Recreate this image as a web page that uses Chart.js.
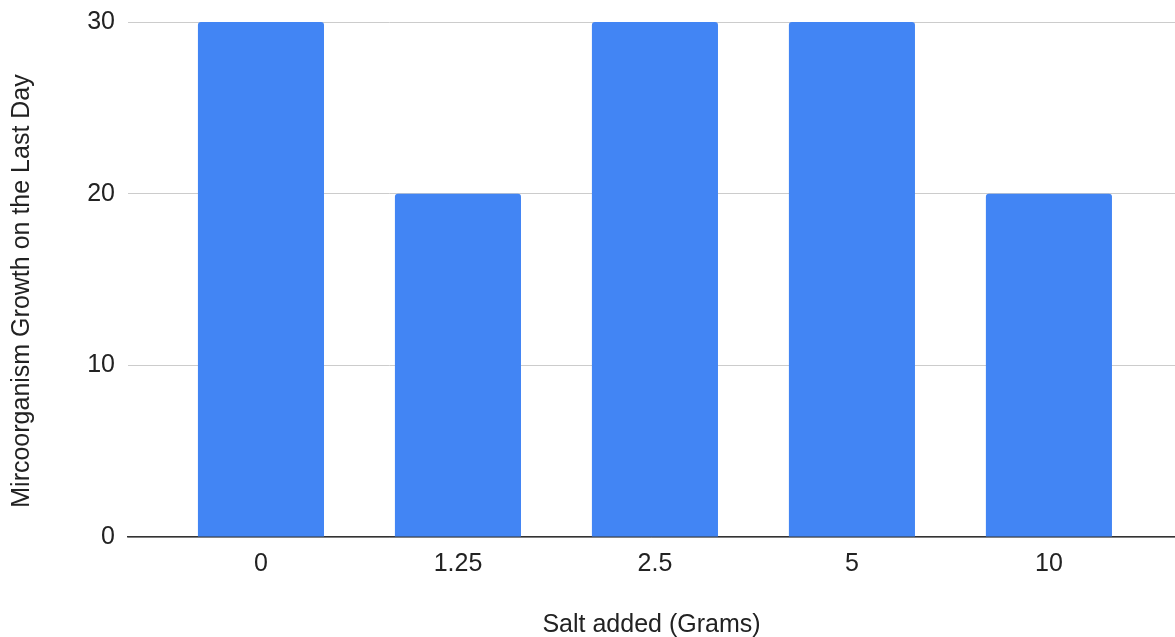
<!DOCTYPE html>
<html><head><meta charset="utf-8">
<script src="https://cdn.jsdelivr.net/npm/chart.js@4/dist/chart.umd.min.js"></script>
<style>html,body{margin:0;padding:0;background:#fff}#wrap{width:1175px;height:637px;position:relative}</style>
</head><body><div id="wrap"><canvas id="c"></canvas></div>
<script>
const categories = ["0", "1.25", "2.5", "5", "10"];
const growth = [30, 20, 30, 30, 20];
const yTicks = [0, 10, 20, 30];
const xTitle = 'Salt added (Grams)';
const yTitle = 'Mircoorganism Growth on the Last Day';

const font = "'Liberation Sans', Arial, sans-serif";
const yTitlePlugin = {
  id: 'yTitle',
  afterDraw(chart) {
    const ctx = chart.ctx;
    ctx.save();
    ctx.translate(22, 291);
    ctx.rotate(-Math.PI / 2);
    ctx.font = "25px " + font;
    ctx.fillStyle = '#222';
    ctx.textAlign = 'center';
    ctx.textBaseline = 'middle';
    ctx.fillText(yTitle, 0, 0);
    ctx.restore();
  }
};
new Chart(document.getElementById('c'), {
  type: 'bar',
  data: {
    datasets: [{
      data: growth.map((v, i) => ({x: i, y: v})),
      backgroundColor: '#4285F4',
      borderRadius: {topLeft: 3, topRight: 3},
      borderSkipped: 'bottom',
      barPercentage: 0.8,
      categoryPercentage: 0.8
    }]
  },
  plugins: [yTitlePlugin],
  options: {
    responsive: true, maintainAspectRatio: false, animation: false,
    layout: {padding: {top: 22, right: 0, left: 0, bottom: 0}},
    plugins: {legend: {display: false}, tooltip: {enabled: false}},
    scales: {
      x: {
        type: 'linear', min: -0.675, max: 4.64, offset: false,
        afterBuildTicks: s => { s.ticks = categories.map((_, i) => ({value: i})); },
        afterFit: s => { s.height = 100; s.paddingLeft = 0; s.paddingRight = 0; },
        grid: {display: false, drawTicks: false},
        border: {display: true, color: '#333', width: 1.5},
        ticks: {callback: v => categories[v], color: '#222', font: {family: font, size: 25}, padding: 12, maxRotation: 0},
        title: {display: true, text: xTitle, color: '#222', font: {family: font, size: 25}, padding: {top: 35, bottom: -3}}
      },
      y: {
        min: 0, max: 30,
        afterBuildTicks: s => { s.ticks = yTicks.map(v => ({value: v})); },
        afterFit: s => { s.width = 128; s.paddingTop = 0; s.paddingBottom = 0; },
        grid: {color: '#cccccc', lineWidth: 1, drawTicks: false},
        border: {display: false},
        ticks: {color: '#222', font: {family: font, size: 25}, padding: 13}
      }
    }
  }
});
</script></body></html>
